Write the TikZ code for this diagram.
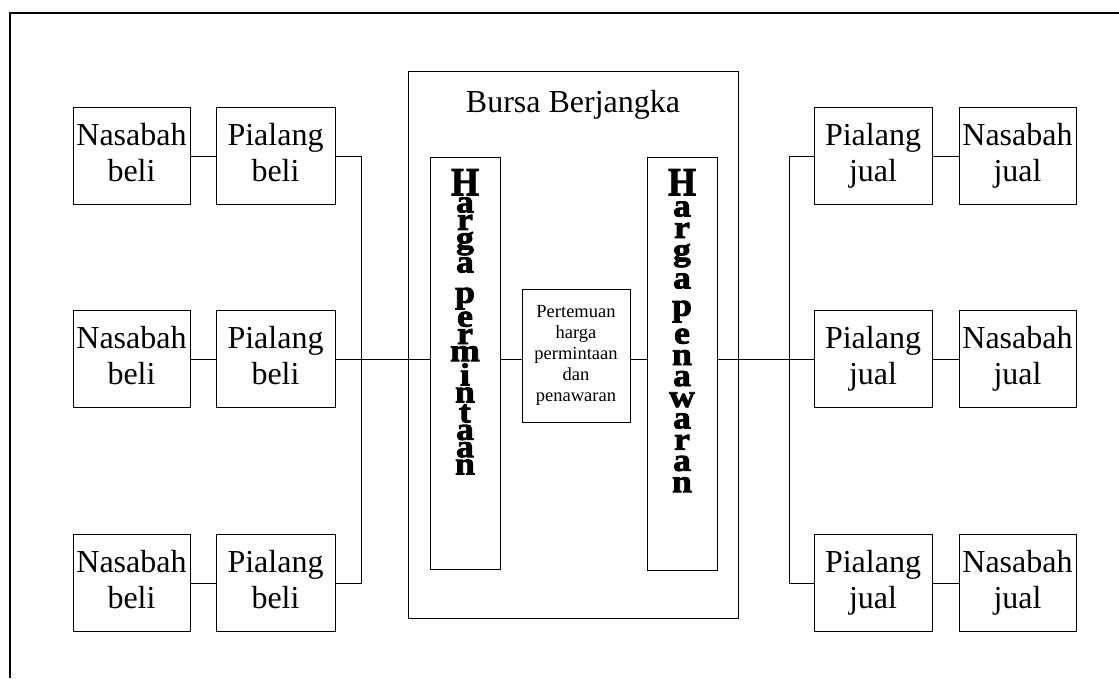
\documentclass[tikz,border=0pt]{standalone}
\usepackage{graphicx}
\usepackage{fontspec}
\setmainfont{Liberation Serif}
\newfontfamily\heavy{Liberation Serif}[BoldFeatures={FakeBold=2.5,FakeStretch=1.12}]
% letters stacked by their own ink height with a fixed gap
\newcommand\inkstack[1]{\baselineskip=0pt\relax\lineskiplimit=0pt\relax\lineskip=#1\relax}
\newcommand\bigH{\scalebox{1}[1.25]{H}}
\begin{document}
\begin{tikzpicture}[x=1pt,y=-1pt,
  line/.style={line width=1pt},
  party/.style={draw,line width=1pt,inner sep=0pt,minimum width=#1,minimum height=97pt,
    align=center,font=\fontsize{32}{36}\selectfont},
  frame/.style={draw,line width=1pt,inner sep=0pt},
  vletters/.style={inner sep=0pt,anchor=north,align=center,
    font=\heavy\bfseries\fontsize{32}{32}\selectfont\inkstack{#1}}
]
\useasboundingbox (0,0) rectangle (1119,678);

% outer frame
\draw[line width=1.4pt] (10,678) -- (10,13) -- (1119,13);

% exchange
\node[frame,minimum width=330pt,minimum height=547pt] (bursa) at (573,344.5) {};
\node[anchor=base,font=\fontsize{32}{36}\selectfont] (bursa-title) at (573,112) {Bursa Berjangka};

\node[frame,minimum width=70pt,minimum height=412pt] (hp) at (465,363) {};
\node[vletters=2pt] (hp-text) at (465,169)
  {\bigH\\a\\r\\g\\a\\\rule{0pt}{11pt}\\p\\e\\r\\m\\i\\n\\t\\a\\a\\n};

\node[frame,minimum width=70pt,minimum height=413pt] (hn) at (682,363.5) {};
\node[vletters=6pt] (hn-text) at (682,169)
  {\bigH\\a\\r\\g\\a\\\mbox{}\\p\\e\\n\\a\\w\\a\\r\\a\\n};

\node[frame,minimum width=108pt,minimum height=133pt,align=center,
  font=\fontsize{18.5}{21.2}\selectfont] (meet) at (576,355.5)
  {Pertemuan\\harga\\permintaan\\dan\\penawaran};

% buyers
\node[party=117pt] (nb1) at (131.5,156) {\strut Nasabah\\beli\strut};
\node[party=117pt] (nb2) at (131.5,359) {\strut Nasabah\\beli\strut};
\node[party=117pt] (nb3) at (131.5,583) {\strut Nasabah\\beli\strut};
\node[party=119pt] (pb1) at (275.5,156) {\strut Pialang\\beli\strut};
\node[party=119pt] (pb2) at (275.5,359) {\strut Pialang\\beli\strut};
\node[party=119pt] (pb3) at (275.5,583) {\strut Pialang\\beli\strut};

% sellers
\node[party=118pt] (pj1) at (873,156) {\strut Pialang\\jual\strut};
\node[party=118pt] (pj2) at (873,359) {\strut Pialang\\jual\strut};
\node[party=118pt] (pj3) at (873,583) {\strut Pialang\\jual\strut};
\node[party=117pt] (nj1) at (1017.5,156) {\strut Nasabah\\jual\strut};
\node[party=117pt] (nj2) at (1017.5,359) {\strut Nasabah\\jual\strut};
\node[party=117pt] (nj3) at (1017.5,583) {\strut Nasabah\\jual\strut};

\coordinate (busL) at (361,0);
\coordinate (busR) at (789,0);

% connectors, buy side
\draw[line] (nb1) -- (pb1);
\draw[line] (nb2) -- (pb2);
\draw[line] (nb3) -- (pb3);
\draw[line] (pb1.east) -- (pb1.east -| busL) -- (pb3.east -| busL) -- (pb3.east);
\draw[line] (pb2.east) -- (pb2.east -| hp.west);

% connectors, inside the exchange
\draw[line] (hp.east |- pb2) -- (meet.west |- pb2);
\draw[line] (meet.east |- pb2) -- (hn.west |- pb2);

% connectors, sell side
\draw[line] (hn.east |- pj2) -- (pj2.west);
\draw[line] (pj1.west) -- (pj1.west -| busR) -- (pj3.west -| busR) -- (pj3.west);
\draw[line] (pj1) -- (nj1);
\draw[line] (pj2) -- (nj2);
\draw[line] (pj3) -- (nj3);
\end{tikzpicture}
\end{document}
